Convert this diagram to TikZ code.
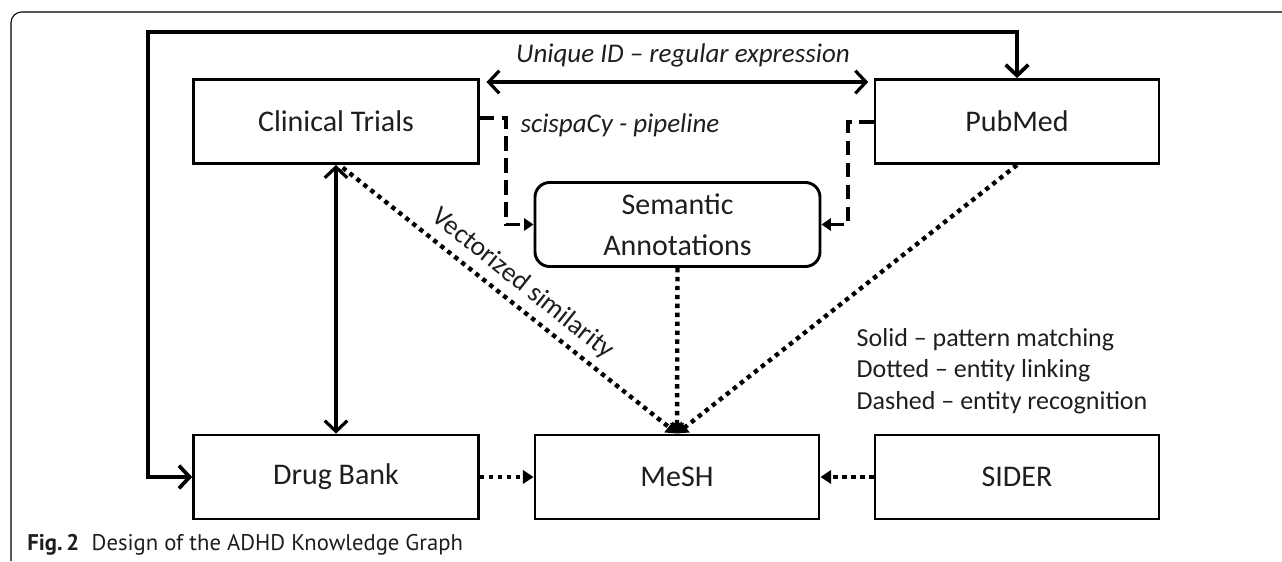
\documentclass[tikz,border=0pt]{standalone}
\usepackage{fontspec}
\setmainfont{Carlito}
\newfontfamily\capfont{PT Sans}
\usetikzlibrary{arrows.meta,calc}
\definecolor{txt}{RGB}{30,30,30}
\begin{document}
\begin{tikzpicture}[x=0.75pt,y=-0.75pt,
  box/.style={draw,line width=2.2pt,minimum width=213.5pt,minimum height=63pt,inner sep=0pt,
    font=\fontsize{22.5}{30.75}\selectfont,text=txt,align=center},
  sol/.style={line width=2.4pt,line join=miter,
    arrows={Straight Barb[length=8pt,width=17pt]-Straight Barb[length=8pt,width=17pt]}},
  dotl/.style={line width=3.3pt,dash pattern=on 3.3pt off 3.4pt,
    arrows={-Triangle[length=8pt,width=10pt]}},
  dashl/.style={line width=2.6pt,dash pattern=on 11pt off 5.5pt,
    arrows={-Triangle[length=7pt,width=9pt]}},
  lab/.style={font=\itshape\fontsize{20.25}{24}\selectfont,text=txt},
]
\useasboundingbox (0,0) rectangle (1282,561);
% outer frame
\draw[line width=0.8pt,rounded corners=8pt] (11,561) -- (11,12) -- (1282,12);

% boxes
\node[box] (CT) at (336,121.5) {Clinical Trials};
\node[box,minimum width=213pt] (PM) at (1017,121.5) {PubMed};
\node[box,rounded corners=11pt,minimum width=213.75pt] (SA) at (677.5,224.5) {Semantic\\Annotations};
\node[box] (DB) at (336,477) {Drug Bank};
\node[box,minimum width=213pt] (MeSH) at (677,477) {MeSH};
\node[box,minimum width=213pt] (SIDER) at (1017,477) {SIDER};

% outer loop
\coordinate (loopL) at (148,32);
\draw[sol,line width=2.8pt] (DB.west) -| (loopL) -| (PM.north);

% unique ID
\draw[sol,shorten <=5pt,shorten >=4pt] ([yshift=-3pt]CT.north east) -- ([yshift=-3pt]PM.north west);
\node[lab] (uid) at (683,55) {Unique ID -- regular expression};

% CT <-> DB
\draw[sol] (CT.south) -- (DB.north);

% dashed scispacy
\coordinate (dl) at (506,224.5);
\coordinate (dr) at (848,224.5);
\draw[dashl] ([yshift=2.5pt]CT.east) -| (dl) -- (SA.west);
\draw[dashl] ([yshift=-0.5pt]PM.west) -| (dr) -- (SA.east);
\node[lab] (sci) at (620,125) {scispaCy - pipeline};

% dotted to MeSH
\draw[dotl] ([xshift=5pt,yshift=-2pt]CT.south) -- (MeSH.north)
  node[midway,sloped,above=2pt,font=\fontsize{20.5}{24}\selectfont,text=txt] (vs) {Vectorized similarity};
\draw[dotl] (PM.south) -- (MeSH.north);
\draw[dotl] (SA.south) -- (MeSH.north);
\draw[dotl] (DB.east) -- (MeSH.west);
\draw[dotl] (SIDER.west) -- (MeSH.east);

% legend
\node[anchor=west,align=left,font=\fontsize{19.5}{23.6}\selectfont,text=txt] (leg) at (852,371)
  {Solid -- pattern matching\\Dotted -- entity linking\\Dashed -- entity recognition};

% caption
\node[anchor=west,font=\capfont\fontsize{17}{20}\selectfont,text=txt,inner sep=0pt] (cap) at (27,545)
  {\textbf{Fig.\,2}\hspace{0.55em}Design of the ADHD Knowledge Graph};
\end{tikzpicture}
\end{document}
